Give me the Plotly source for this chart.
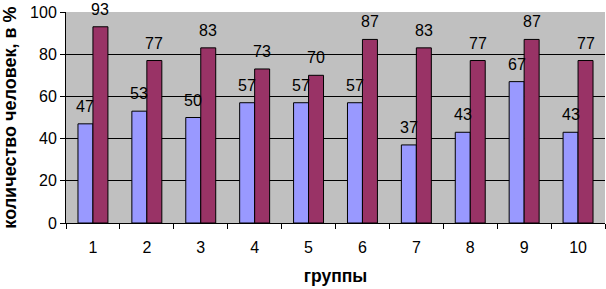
import plotly.graph_objects as go

groups = ["1", "2", "3", "4", "5", "6", "7", "8", "9", "10"]
series_a = [47, 53, 50, 57, 57, 57, 37, 43, 67, 43]
series_b = [93, 77, 83, 73, 70, 87, 83, 77, 87, 77]
y_ticks = [0, 20, 40, 60, 80, 100]

BARGAP = 0.444
fig = go.Figure()
fig.add_trace(go.Bar(x=groups, y=series_a, marker=dict(color="#9999FF", line=dict(color="#000000", width=1)),
                     name="a"))
fig.add_trace(go.Bar(x=groups, y=series_b, marker=dict(color="#993366", line=dict(color="#000000", width=1)),
                     name="b"))

# data labels through the axis scales (category index on x)
plot_w = 606 - 66 - 1
cat_w = plot_w / len(groups)
bar_w = cat_w * (1 - BARGAP) / 2
for vals, sh in ((series_a, -bar_w / 2), (series_b, bar_w / 2)):
    for i, v in enumerate(vals):
        fig.add_annotation(x=i, y=v, text=str(v), showarrow=False, xshift=sh, yshift=7,
                           yanchor="bottom", font=dict(size=16, color="#000000"))

fig.update_layout(
    width=606, height=289,
    margin=dict(l=66, r=1, t=12, b=66),
    paper_bgcolor="#FFFFFF", plot_bgcolor="#C0C0C0",
    barmode="group", bargap=BARGAP, bargroupgap=0,
    showlegend=False,
    font=dict(family="Liberation Sans, Arial, sans-serif", size=16, color="#000000"),
)
fig.update_xaxes(
    type="category",
    title=dict(text="<b>группы</b>", font=dict(size=17.5), standoff=14),
    automargin=False,
    showline=True, linecolor="#000000", linewidth=1,
    ticks="outside", tickson="boundaries", ticklen=5, tickcolor="#000000",
    ticklabelstandoff=10,
    showgrid=False,
)
fig.update_yaxes(
    title=dict(text="<b>количество человек, в %</b>", font=dict(size=18), standoff=8),
    automargin=False,
    range=[0, 100], tickvals=y_ticks,
    showline=True, linecolor="#000000", linewidth=1,
    ticks="outside", ticklen=5, tickcolor="#000000",
    showgrid=True, gridcolor="#000000", gridwidth=1,
    zeroline=False,
)
fig.write_html("out.html", config={"displayModeBar": False},
               post_script="document.body.style.margin='0';document.body.style.overflow='hidden';")
